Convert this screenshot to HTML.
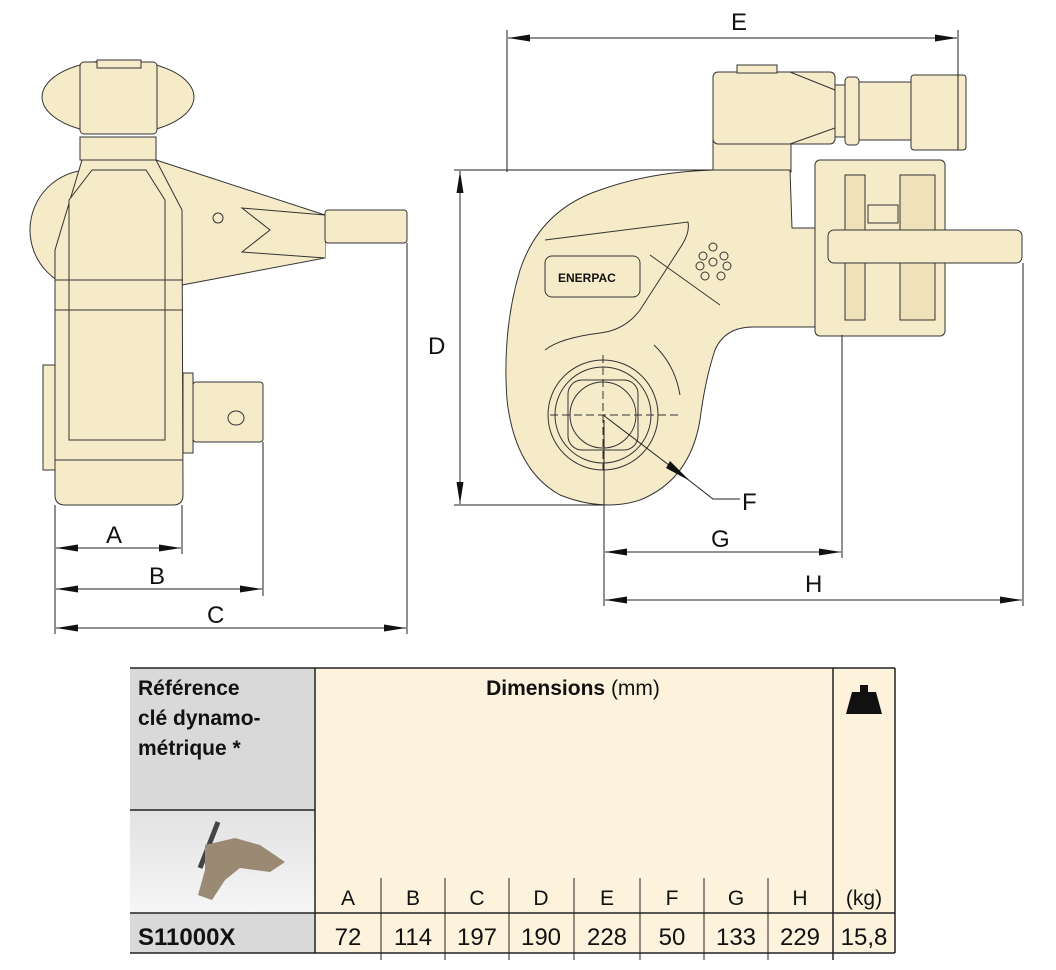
<!DOCTYPE html>
<html><head><meta charset="utf-8"><style>
body{margin:0;background:#fff;width:1056px;height:970px;overflow:hidden}
svg{display:block}
text{font-family:"Liberation Sans",sans-serif}
.n{font-family:"Liberation Sans Narrow","Liberation Sans",sans-serif}
</style></head><body>
<svg width="1056" height="970" viewBox="0 0 1056 970" xmlns="http://www.w3.org/2000/svg">
<defs>
<marker id="ar" viewBox="0 0 22 7" refX="22" refY="3.5" markerWidth="22" markerHeight="7" markerUnits="userSpaceOnUse" orient="auto-start-reverse"><path d="M0,0 L22,3.5 L0,7 Z" fill="#111"/></marker>
<linearGradient id="gi" x1="0" y1="0" x2="0" y2="1"><stop offset="0" stop-color="#e2e2e2"/><stop offset="1" stop-color="#f6f6f6"/></linearGradient>
</defs>
<g fill="#f6ebc8" stroke="#333" stroke-width="1">
<!-- LEFT VIEW -->
<ellipse cx="118" cy="97" rx="76" ry="37"/>
<rect x="80" y="62" width="77" height="72" rx="4"/>
<rect x="97" y="60" width="44" height="8"/>
<rect x="80" y="137" width="76" height="23"/>
<circle cx="90" cy="230" r="60"/>
<path d="M156,160 L325,215 L325,258 L182,285 Z"/>
<path d="M325,215 L242,208 L270,230 L242,252 L325,258"/>
<rect x="325" y="210" width="82" height="33" rx="3"/>
<circle cx="218" cy="218" r="5"/>
<path d="M82,160 L156,160 L182,210 L183,495 Q183,505 173,505 L65,505 Q55,505 55,495 L55,250 L70,200 Z"/>
<path d="M92,170 L146,170 L165,200 L165,440 L69,440 L69,200 Z"/>
<line x1="55" y1="280" x2="183" y2="280"/>
<line x1="55" y1="310" x2="183" y2="310"/>
<line x1="55" y1="460" x2="183" y2="460"/>
<rect x="183" y="373" width="10" height="80"/>
<rect x="193" y="382" width="70" height="60" rx="3"/>
<ellipse cx="236" cy="418" rx="8" ry="7"/>
<rect x="43" y="365" width="12" height="105"/>
<!-- RIGHT VIEW -->
<rect x="713" y="140" width="78" height="32"/>
<rect x="815" y="160" width="130" height="176" rx="5"/>
<path d="M845,175 L865,175 L865,320 L845,320 Z M900,175 L935,175 L935,320 L900,320 Z" fill="#efe2bb"/>
<rect x="868" y="205" width="30" height="18"/>
<rect x="828" y="230" width="194" height="33" rx="6"/>
<path d="M713,170 L790,170 L792,228 L815,228 L815,327 L753,327 Q725,327 715,350 Q705,380 700,420 Q690,480 640,500 Q603,512 560,495 Q515,470 507,400 Q502,330 520,270 Q540,210 600,190 Q650,172 713,170 Z"/>
<path d="M545,240 L688,222 Q690,232 682,245 L640,310 Q625,330 600,333 Q560,338 545,350" fill="none"/>
<path d="M650,255 L720,305" fill="none"/>
<circle cx="603" cy="415" r="55"/>
<circle cx="603" cy="415" r="48"/>
<rect x="568" y="380" width="70" height="70" rx="14"/>
<circle cx="603" cy="415" r="33"/>
<rect x="545" y="256" width="95" height="41" rx="7"/>
<g fill="none"><circle cx="713" cy="262" r="4"/><circle cx="703" cy="256" r="4"/><circle cx="724" cy="256" r="4"/><circle cx="700" cy="266" r="4"/><circle cx="727" cy="266" r="4"/><circle cx="705" cy="276" r="4"/><circle cx="721" cy="276" r="4"/><circle cx="713" cy="247" r="4"/></g>
<path d="M654,345 Q675,365 680,395" fill="none"/>
<rect x="713" y="72" width="122" height="72" rx="5"/>
<path d="M790,72 L835,90 L835,128 L790,144" fill="none"/>
<rect x="737" y="65" width="40" height="8"/>
<rect x="835" y="85" width="10" height="52"/>
<rect x="845" y="77" width="14" height="68" rx="4"/>
<rect x="859" y="82" width="52" height="58"/>
<rect x="911" y="75" width="55" height="75" rx="3"/>
</g>
<text x="558" y="282" font-size="12" font-weight="bold" fill="#111">ENERPAC</text>
<g stroke="#333" stroke-width="1" stroke-dasharray="8,4" fill="none">
<line x1="550" y1="415" x2="680" y2="415"/><line x1="603" y1="355" x2="603" y2="470"/>
</g>
<!-- dimensions -->
<g stroke="#222" stroke-width="1" fill="none">
<line x1="55" y1="505" x2="55" y2="634"/><line x1="182" y1="505" x2="182" y2="554"/>
<line x1="263" y1="442" x2="263" y2="596"/><line x1="407" y1="243" x2="407" y2="634"/>
<line x1="56" y1="548" x2="181" y2="548" marker-start="url(#ar)" marker-end="url(#ar)"/>
<line x1="56" y1="589" x2="262" y2="589" marker-start="url(#ar)" marker-end="url(#ar)"/>
<line x1="56" y1="628" x2="406" y2="628" marker-start="url(#ar)" marker-end="url(#ar)"/>
<line x1="507" y1="30" x2="507" y2="172"/><line x1="958" y1="30" x2="958" y2="150"/>
<line x1="508" y1="38" x2="957" y2="38" marker-start="url(#ar)" marker-end="url(#ar)"/>
<line x1="454" y1="170" x2="713" y2="170"/><line x1="454" y1="505" x2="603" y2="505"/>
<line x1="460" y1="171" x2="460" y2="504" marker-start="url(#ar)" marker-end="url(#ar)"/>
<line x1="604" y1="420" x2="604" y2="606"/><line x1="842" y1="335" x2="842" y2="558"/>
<line x1="1023" y1="263" x2="1023" y2="606"/>
<line x1="605" y1="552" x2="841" y2="552" marker-start="url(#ar)" marker-end="url(#ar)"/>
<line x1="605" y1="600" x2="1022" y2="600" marker-start="url(#ar)" marker-end="url(#ar)"/>
<line x1="603" y1="415" x2="686" y2="478"/>
<polyline points="686,478 713,499 740,499"/>
</g>
<path d="M690,481 L670,461 L666,468 Z" fill="#111"/>
<g font-size="24" fill="#111">
<text x="106" y="543">A</text><text x="149" y="584">B</text><text x="207" y="623">C</text>
<text x="428" y="354">D</text><text x="731" y="30">E</text><text x="742" y="510">F</text>
<text x="711" y="547">G</text><text x="805" y="592">H</text>
</g>
<!-- TABLE -->
<rect x="130" y="668" width="185" height="142" fill="#d9d9d9"/>
<rect x="130" y="810" width="185" height="103" fill="url(#gi)"/>
<line x1="218" y1="822" x2="200" y2="868" stroke="#444" stroke-width="5"/>
<path d="M205,845 L235,838 L260,845 L285,862 L270,872 L240,868 L225,880 L212,900 L198,895 L205,870 Z" fill="#9a8a74"/>
<rect x="315" y="668" width="580" height="245" fill="#fdf3dc"/>
<rect x="130" y="913" width="185" height="40" fill="#d9d9d9"/>
<rect x="315" y="913" width="580" height="40" fill="#fdf3dc"/>
<g stroke="#222" stroke-width="1.5" fill="none">
<line x1="130" y1="668" x2="895" y2="668"/>
<line x1="130" y1="913" x2="895" y2="913"/>
<line x1="130" y1="953" x2="895" y2="953"/>
<line x1="315" y1="668" x2="315" y2="953"/>
<line x1="833" y1="668" x2="833" y2="960"/>
<line x1="895" y1="668" x2="895" y2="953"/>
<line x1="130" y1="810" x2="315" y2="810"/>
</g>
<g stroke="#222" stroke-width="1" fill="none">
<line x1="381" y1="878" x2="381" y2="960"/><line x1="445" y1="878" x2="445" y2="960"/>
<line x1="509" y1="878" x2="509" y2="960"/><line x1="574" y1="878" x2="574" y2="960"/>
<line x1="640" y1="878" x2="640" y2="960"/><line x1="704" y1="878" x2="704" y2="960"/>
<line x1="768" y1="878" x2="768" y2="960"/>
</g>
<path d="M846,714 L852,692 L876,692 L882,714 Z M860,692 L860,685 L868,685 L868,692 Z" fill="#111"/>
<g class="n" font-size="21" fill="#111">
<text x="138" y="695" font-weight="bold">Référence</text>
<text x="138" y="725" font-weight="bold">clé dynamo-</text>
<text x="138" y="755" font-weight="bold">métrique *</text>
<text x="573" y="695" text-anchor="middle"><tspan font-weight="bold">Dimensions</tspan> (mm)</text>
<g text-anchor="middle">
<text x="348" y="905">A</text><text x="413" y="905">B</text><text x="477" y="905">C</text><text x="541" y="905">D</text><text x="607" y="905">E</text><text x="672" y="905">F</text><text x="736" y="905">G</text><text x="800" y="905">H</text><text x="864" y="905">(kg)</text>
<text x="348" y="945" font-size="24">72</text><text x="413" y="945" font-size="24">114</text><text x="477" y="945" font-size="24">197</text><text x="541" y="945" font-size="24">190</text><text x="607" y="945" font-size="24">228</text><text x="672" y="945" font-size="24">50</text><text x="736" y="945" font-size="24">133</text><text x="800" y="945" font-size="24">229</text><text x="864" y="945" font-size="24">15,8</text>
</g>
<text x="138" y="945" font-size="24" font-weight="bold">S11000X</text>
</g>
</svg>
</body></html>
